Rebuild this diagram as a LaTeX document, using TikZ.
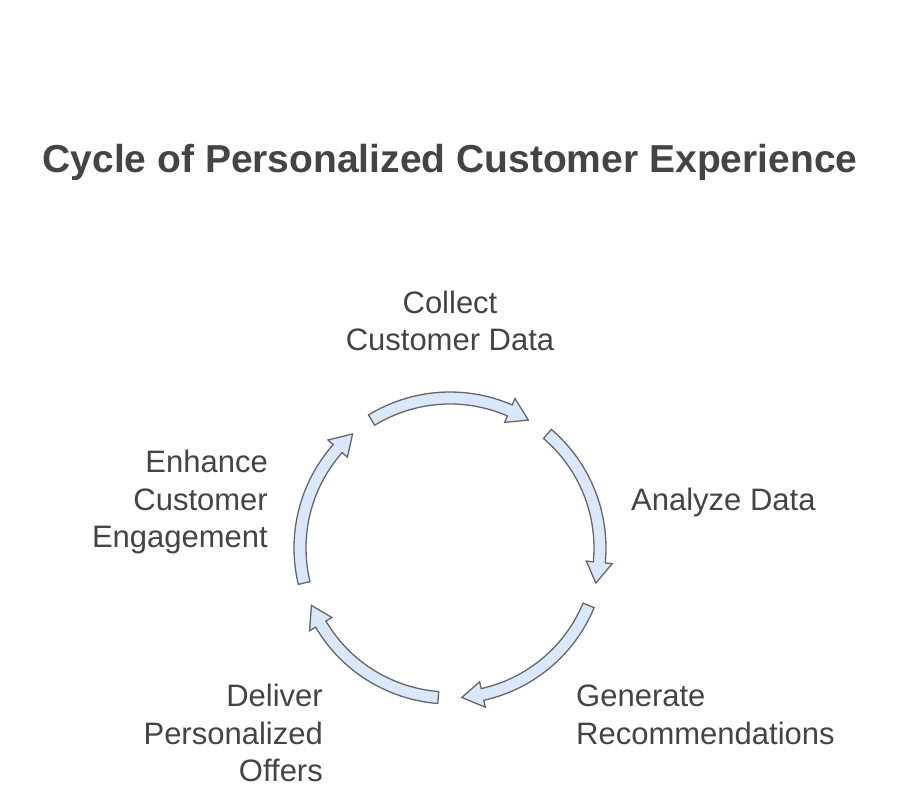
\documentclass[tikz,border=0pt]{standalone}
\usepackage{fontspec}
\setmainfont{Liberation Sans}
\usetikzlibrary{calc}
\definecolor{arrowfill}{HTML}{DAE8FC}
\definecolor{arrowline}{HTML}{666666}
\definecolor{textgray}{HTML}{444444}
\tikzset{
  cyclearrow/.style={fill=arrowfill, draw=arrowline, line width=1.3pt, line join=miter},
  steptext/.style={inner sep=0pt, text=textgray, font=\fontsize{31}{37.5}\selectfont},
}
\begin{document}
\begin{tikzpicture}[x=1pt,y=1pt]
  \useasboundingbox (0,0) rectangle (900,806);
  \coordinate (c) at (450,258);

  % Title
  \node[steptext, font=\bfseries\fontsize{39}{46}\selectfont] (title) at (450,644) {Cycle of Personalized Customer Experience};

  % Draw the five curved arrows around the circle
  \foreach \a in {90,18,-54,-126,-198} {
    \draw[cyclearrow] ($(c)+({\a+31.5}:156)$) arc[start angle=\a+31.5, end angle=\a-23.5, radius=156pt]
      -- ($(c)+({\a-23.5}:163)$) -- ($(c)+({\a-31.5}:150)$) -- ($(c)+({\a-23.5}:137)$)
      -- ($(c)+({\a-23.5}:144)$) arc[start angle=\a-23.5, end angle=\a+31.5, radius=144pt] -- cycle;
  }

  % Add the step labels
  \node[steptext, align=center] (collect) at (450,485) {Collect\\Customer Data};
  \node[steptext, anchor=west] (analyze) at (631,304) {Analyze Data};
  \node[steptext, anchor=west, align=left] (generate) at (576,91) {Generate\\Recommendations};
  \node[steptext, anchor=east, align=right] (deliver) at (323,73) {Deliver\\Personalized\\Offers};
  \node[steptext, anchor=east, align=right] (enhance) at (268,304) {Enhance\\Customer\\Engagement};
\end{tikzpicture}
\end{document}
